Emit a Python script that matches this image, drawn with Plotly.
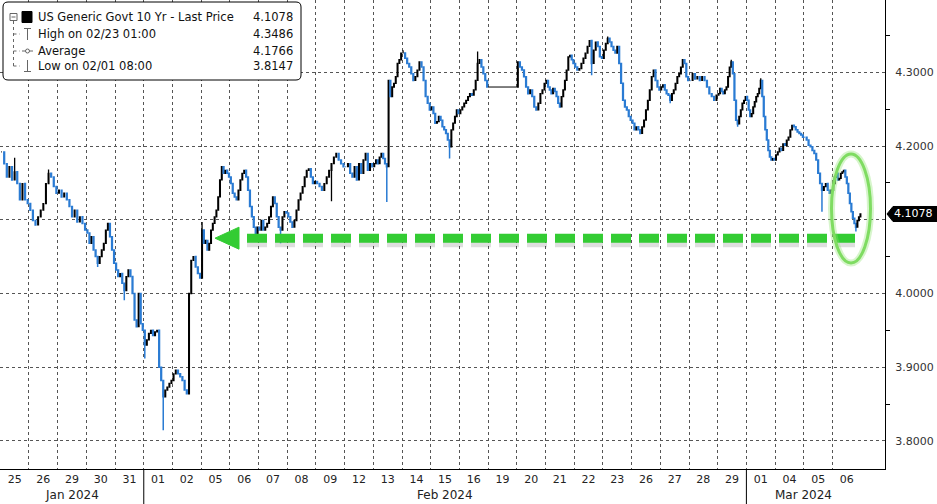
import plotly.graph_objects as go

# ---------------- data ----------------
DAY_LABELS = ["25", "26", "29", "30", "31", "01", "02", "05", "06", "07", "08", "09",
              "12", "13", "14", "15", "16", "19", "20", "21", "22", "23", "26", "27",
              "28", "29", "01", "04", "05", "06"]
MONTH_LABELS = ["Jan 2024", "Feb 2024", "Mar 2024"]
MONTH_START = [0, 5, 26]          # index of first trading day of each month
Y_TICKS = [3.8, 3.9, 4.0, 4.1, 4.2, 4.3]
Y_MINOR = [3.85, 3.95, 4.05, 4.15, 4.25, 4.35]

# intraday closes for each trading day
jan25 = [4.192, 4.176, 4.158, 4.172, 4.154, 4.165, 4.149, 4.127, 4.149, 4.127, 4.122]
jan26 = [4.113, 4.099, 4.093, 4.104, 4.113, 4.122, 4.149, 4.163, 4.158, 4.145, 4.136]
jan29 = [4.140, 4.131, 4.136, 4.127, 4.118, 4.104, 4.113, 4.097, 4.104, 4.095, 4.086]
jan30 = [4.082, 4.068, 4.077, 4.059, 4.050, 4.041, 4.050, 4.059, 4.068, 4.086, 4.095, 4.077, 4.059, 4.041]
jan31 = [4.032, 4.023, 4.027, 4.014, 4.004, 4.023, 4.032, 4.023, 4.000, 3.964, 3.955, 4.000, 3.959, 3.950]
feb01 = [3.930, 3.937, 3.946, 3.950, 3.943, 3.948, 3.950, 3.900, 3.882, 3.860, 3.869, 3.873, 3.878, 3.882]
feb02 = [3.891, 3.896, 3.891, 3.887, 3.882, 3.869, 3.864, 4.000, 4.045, 4.050, 4.036, 4.027, 4.021]
feb05 = [4.086, 4.068, 4.072, 4.059, 4.068, 4.086, 4.095, 4.104, 4.113, 4.131, 4.154, 4.172, 4.163, 4.167, 4.163, 4.158]
feb06 = [4.149, 4.136, 4.131, 4.127, 4.140, 4.154, 4.163, 4.167, 4.158, 4.140, 4.118, 4.104, 4.090, 4.081, 4.090]
feb07 = [4.086, 4.099, 4.086, 4.090, 4.095, 4.104, 4.118, 4.131, 4.122, 4.104, 4.090, 4.086, 4.104, 4.111, 4.109]
feb08 = [4.104, 4.097, 4.090, 4.099, 4.113, 4.127, 4.136, 4.145, 4.158, 4.167, 4.169, 4.158, 4.149, 4.152]
feb09 = [4.149, 4.145, 4.140, 4.149, 4.158, 4.167, 4.176, 4.185, 4.190, 4.181, 4.176, 4.172]
feb12 = [4.172, 4.176, 4.163, 4.158, 4.172, 4.154, 4.176, 4.163, 4.181, 4.190, 4.167, 4.176, 4.172]
feb13 = [4.176, 4.181, 4.176, 4.185, 4.190, 4.183, 4.176, 4.172, 4.289, 4.267, 4.280, 4.285, 4.294, 4.312, 4.317, 4.326]
feb14 = [4.326, 4.319, 4.312, 4.307, 4.298, 4.289, 4.294, 4.303, 4.314, 4.307, 4.289, 4.267, 4.258, 4.249]
feb15 = [4.253, 4.244, 4.231, 4.233, 4.240, 4.235, 4.226, 4.222, 4.217, 4.208, 4.199, 4.222, 4.231, 4.240, 4.249, 4.244]
feb16 = [4.249, 4.253, 4.258, 4.262, 4.267, 4.271, 4.269, 4.276, 4.289, 4.312, 4.317, 4.307, 4.298, 4.289, 4.280]
feb19 = []                         # US holiday: price flat
feb20 = [4.314, 4.307, 4.303, 4.294, 4.280, 4.271, 4.276, 4.267, 4.253, 4.249, 4.258, 4.271, 4.276, 4.285]
feb21 = [4.289, 4.280, 4.276, 4.271, 4.278, 4.274, 4.267, 4.258, 4.253, 4.267, 4.276, 4.289, 4.303, 4.321, 4.323, 4.317, 4.312]
feb22 = [4.307, 4.303, 4.305, 4.312, 4.319, 4.326, 4.335, 4.343, 4.312, 4.330, 4.341, 4.335, 4.321, 4.319]
feb23 = [4.330, 4.339, 4.346, 4.341, 4.335, 4.330, 4.326, 4.335, 4.312, 4.285, 4.262, 4.253, 4.249, 4.240, 4.235]
feb26 = [4.231, 4.222, 4.226, 4.222, 4.217, 4.226, 4.235, 4.249, 4.262, 4.276, 4.294, 4.303, 4.289, 4.280, 4.276]
feb27 = [4.280, 4.283, 4.276, 4.271, 4.269, 4.262, 4.271, 4.276, 4.285, 4.294, 4.298, 4.307, 4.317, 4.312, 4.294, 4.289]
feb28 = [4.289, 4.298, 4.291, 4.294, 4.289, 4.294, 4.289, 4.280, 4.271, 4.267, 4.262, 4.269]
feb29 = [4.271, 4.278, 4.274, 4.271, 4.276, 4.280, 4.294, 4.307, 4.314, 4.298, 4.262, 4.235, 4.230, 4.240, 4.249, 4.258, 4.262, 4.267]
mar01 = [4.262, 4.249, 4.240, 4.244, 4.253, 4.260, 4.267, 4.271, 4.278, 4.289, 4.267, 4.240, 4.222, 4.208, 4.194, 4.185, 4.181, 4.183, 4.181]
mar04 = [4.188, 4.192, 4.197, 4.194, 4.203, 4.201, 4.208, 4.212, 4.222, 4.228, 4.226, 4.222, 4.219, 4.217, 4.215, 4.212]
mar05 = [4.212, 4.208, 4.201, 4.199, 4.194, 4.190, 4.181, 4.163, 4.149, 4.140, 4.145, 4.149, 4.140, 4.136, 4.140]
mar06 = [4.149, 4.158, 4.163, 4.154, 4.156, 4.163, 4.165, 4.167, 4.158, 4.149, 4.136, 4.122, 4.111, 4.102, 4.095, 4.090, 4.099, 4.104, 4.1078]

DAILY_CLOSES = [jan25, jan26, jan29, jan30, jan31, feb01, feb02, feb05, feb06, feb07, feb08,
                feb09, feb12, feb13, feb14, feb15, feb16, feb19, feb20, feb21, feb22, feb23,
                feb26, feb27, feb28, feb29, mar01, mar04, mar05, mar06]
HOLIDAY_DAY = 17
HOLIDAY_LEVEL = 4.280

# notable wick extremes: (day index, candle index, value)
WICK_DAY = [0, 1, 3, 4, 5, 5, 7, 9, 11, 13, 14, 15, 16, 20, 21, 23, 25, 25, 26, 28, 29]
WICK_IDX = [5, 7, 5, 4, 0, 9, 0, 11, 6, 7, 0, 10, 9, 8, 2, 5, 8, 12, 9, 9, 15]
WICK_VAL = [4.184, 4.168, 4.036, 3.991, 3.912, 3.8147, 4.097, 4.068, 4.125, 4.124, 4.330,
            4.183, 4.328, 4.296, 4.3486, 4.258, 4.317, 4.226, 4.292, 4.111, 4.084]

LEGEND_NAMES = ["US Generic Govt 10 Yr - Last Price", "High on 02/23 01:00", "Average", "Low on 02/01 08:00"]
LEGEND_VALUES = ["4.1078", "4.3486", "4.1766", "3.8147"]
LAST_PRICE = 4.1078
ARROW_LEVEL = 4.075

# ---------------- build candles ----------------
wicks = {(d, i): v for d, i, v in zip(WICK_DAY, WICK_IDX, WICK_VAL)}
xs, op, hi, lo, cl = [], [], [], [], []
prev = None
for d, closes in enumerate(DAILY_CLOSES):
    n = len(closes)
    for i, c in enumerate(closes):
        o = c if prev is None else prev
        h, l = max(o, c), min(o, c)
        w = wicks.get((d, i))
        if w is not None:
            h, l = max(h, w), min(l, w)
        xs.append(d + (i + 0.5) / n)
        op.append(o); hi.append(h); lo.append(l); cl.append(c)
        prev = c

BLUE = "#2a7bd3"
X_RANGE = [-0.01, 30.83]
Y_RANGE = [3.762, 4.398]
PLOT_W, PLOT_H = 885, 469


def pxx(px):
    return px / PLOT_W


def pxy(py):
    return 1 - py / PLOT_H


def val_to_py(v):
    return (Y_RANGE[1] - v) / (Y_RANGE[1] - Y_RANGE[0]) * PLOT_H


fig = go.Figure()
fig.add_trace(go.Candlestick(
    x=xs, open=op, high=hi, low=lo, close=cl,
    increasing=dict(line=dict(color="black", width=1.3), fillcolor="white"),
    decreasing=dict(line=dict(color=BLUE, width=1.5), fillcolor=BLUE),
    whiskerwidth=0, showlegend=False, hoverinfo="skip"))

# holiday flat segment
fig.add_trace(go.Scatter(x=[HOLIDAY_DAY, HOLIDAY_DAY + 1], y=[HOLIDAY_LEVEL, HOLIDAY_LEVEL],
                         mode="lines", line=dict(color="black", width=1),
                         showlegend=False, hoverinfo="skip"))

# tick triangles on the right axis
px_per_day = PLOT_W / (X_RANGE[1] - X_RANGE[0])
fig.add_trace(go.Scatter(x=[X_RANGE[1] + 4.5 / px_per_day] * len(Y_TICKS), y=Y_TICKS,
                         mode="markers", cliponaxis=False,
                         marker=dict(symbol="triangle-right", size=7, color="black"),
                         showlegend=False, hoverinfo="skip"))

shapes = []
annotations = []

# month separators in the label band
for s in MONTH_START[1:]:
    shapes.append(dict(type="line", xref="x", yref="paper", x0=s, x1=s, y0=0, y1=-35 / PLOT_H,
                       line=dict(color="black", width=1)))
# month labels
bounds = MONTH_START + [len(DAY_LABELS)]
for k, lab in enumerate(MONTH_LABELS):
    annotations.append(dict(text=lab, xref="x", yref="paper", x=(bounds[k] + bounds[k + 1]) / 2,
                            y=pxy(495), showarrow=False, xanchor="center", yanchor="middle",
                            font=dict(family="DejaVu Sans", size=12, color="#222")))

# green dashed arrow (shadow + dashes + head)
ay = pxy(val_to_py(ARROW_LEVEL))
ay_sh = pxy(val_to_py(ARROW_LEVEL) + 5)
shapes.append(dict(type="line", xref="paper", yref="paper", x0=pxx(247), x1=pxx(855), y0=ay_sh, y1=ay_sh,
                   line=dict(color="rgba(0,0,0,0.13)", width=8, dash="20px,8px")))
shapes.append(dict(type="line", xref="paper", yref="paper", x0=pxx(247), x1=pxx(855), y0=ay, y1=ay,
                   line=dict(color="#33cc33", width=9, dash="20px,8px")))
apy = val_to_py(ARROW_LEVEL)
shapes.append(dict(type="path", xref="paper", yref="paper",
                   path=f"M {pxx(215)},{pxy(apy)} L {pxx(239)},{pxy(apy - 11)} L {pxx(239)},{pxy(apy + 11)} Z",
                   fillcolor="#33cc33", line=dict(color="#33cc33", width=1)))

# green ellipse
shapes.append(dict(type="circle", xref="paper", yref="paper", x0=pxx(831.5), x1=pxx(870.5),
                   y0=pxy(263), y1=pxy(154), line=dict(color="rgba(140,225,110,0.35)", width=7)))
shapes.append(dict(type="circle", xref="paper", yref="paper", x0=pxx(831.5), x1=pxx(870.5),
                   y0=pxy(263), y1=pxy(154), line=dict(color="#7fdc62", width=3)))

# last price tag
tpy = val_to_py(LAST_PRICE)
shapes.append(dict(type="path", xref="paper", yref="paper",
                   path=(f"M {pxx(887)},{pxy(tpy)} L {pxx(893)},{pxy(tpy - 7.5)} L {pxx(937)},{pxy(tpy - 7.5)} "
                         f"L {pxx(937)},{pxy(tpy + 7.5)} L {pxx(893)},{pxy(tpy + 7.5)} Z"),
                   fillcolor="black", line=dict(color="black", width=1)))
annotations.append(dict(text=f"{LAST_PRICE:.4f}", xref="paper", yref="paper", x=pxx(913.5), y=pxy(tpy),
                        showarrow=False, xanchor="center", yanchor="middle",
                        font=dict(family="DejaVu Sans", size=11, color="white")))

# legend box (rounded)
x0, x1, y0, y1 = pxx(3), pxx(301), pxy(80), pxy(2)
rx, ry = 5 / PLOT_W, 5 / PLOT_H
shapes.append(dict(type="path", xref="paper", yref="paper",
                   path=(f"M {x0+rx},{y1} L {x1-rx},{y1} Q {x1},{y1} {x1},{y1-ry} L {x1},{y0+ry} "
                         f"Q {x1},{y0} {x1-rx},{y0} L {x0+rx},{y0} Q {x0},{y0} {x0},{y0+ry} "
                         f"L {x0},{y1-ry} Q {x0},{y1} {x0+rx},{y1} Z"),
                   fillcolor="white", line=dict(color="black", width=1)))
ROW_Y = [17, 34, 51, 66]
for name, val, ry_px in zip(LEGEND_NAMES, LEGEND_VALUES, ROW_Y):
    annotations.append(dict(text=name, xref="paper", yref="paper", x=pxx(36), y=pxy(ry_px),
                            showarrow=False, xanchor="left", yanchor="middle",
                            font=dict(family="DejaVu Sans", size=11.5, color="#111")))
    annotations.append(dict(text=val, xref="paper", yref="paper", x=pxx(295), y=pxy(ry_px),
                            showarrow=False, xanchor="right", yanchor="middle",
                            font=dict(family="DejaVu Sans", size=11.5, color="#111")))
gray = "#666"
# tree: box-minus, connectors
shapes.append(dict(type="rect", xref="paper", yref="paper", x0=pxx(10), x1=pxx(17), y0=pxy(20.5), y1=pxy(13.5),
                   line=dict(color=gray, width=1), fillcolor="white"))
shapes.append(dict(type="line", xref="paper", yref="paper", x0=pxx(11.5), x1=pxx(15.5), y0=pxy(17), y1=pxy(17),
                   line=dict(color=gray, width=1)))
shapes.append(dict(type="line", xref="paper", yref="paper", x0=pxx(13.5), x1=pxx(13.5), y0=pxy(21), y1=pxy(66),
                   line=dict(color=gray, width=1, dash="dot")))
for r in ROW_Y[1:]:
    shapes.append(dict(type="line", xref="paper", yref="paper", x0=pxx(13.5), x1=pxx(20), y0=pxy(r), y1=pxy(r),
                       line=dict(color=gray, width=1, dash="dot")))
# icons
shapes.append(dict(type="rect", xref="paper", yref="paper", x0=pxx(22), x1=pxx(32), y0=pxy(22.5), y1=pxy(11.5),
                   fillcolor="black", line=dict(color="black", width=1)))
shapes.append(dict(type="line", xref="paper", yref="paper", x0=pxx(24), x1=pxx(31), y0=pxy(28.5), y1=pxy(28.5),
                   line=dict(color=gray, width=1)))
shapes.append(dict(type="line", xref="paper", yref="paper", x0=pxx(27.5), x1=pxx(27.5), y0=pxy(28.5), y1=pxy(40),
                   line=dict(color=gray, width=1)))
shapes.append(dict(type="line", xref="paper", yref="paper", x0=pxx(22), x1=pxx(33), y0=pxy(51), y1=pxy(51),
                   line=dict(color=gray, width=1)))
shapes.append(dict(type="circle", xref="paper", yref="paper", x0=pxx(25.5), x1=pxx(29.5), y0=pxy(53), y1=pxy(49),
                   line=dict(color=gray, width=1), fillcolor="white"))
shapes.append(dict(type="line", xref="paper", yref="paper", x0=pxx(27.5), x1=pxx(27.5), y0=pxy(60), y1=pxy(71.5),
                   line=dict(color=gray, width=1)))
shapes.append(dict(type="line", xref="paper", yref="paper", x0=pxx(24), x1=pxx(31), y0=pxy(71.5), y1=pxy(71.5),
                   line=dict(color=gray, width=1)))

# the 4.1000 label is hidden behind the last-price tag in the reference
y_ticktext = ["" if abs(v - round(LAST_PRICE, 1)) < 1e-9 else f"{v:.4f}" for v in Y_TICKS]

fig.update_layout(
    width=937, height=504,
    margin=dict(l=0, r=52, t=0, b=35),
    plot_bgcolor="white", paper_bgcolor="white",
    showlegend=False,
    font=dict(family="DejaVu Sans", size=11, color="#222"),
    shapes=shapes, annotations=annotations,
    xaxis=dict(range=X_RANGE, tickmode="array",
               tickvals=[d + 0.5 for d in range(len(DAY_LABELS))], ticktext=DAY_LABELS,
               showgrid=False, zeroline=False, showline=True, linecolor="black", linewidth=1,
               ticks="", tickfont=dict(family="DejaVu Sans", size=11, color="#222"),
               rangeslider=dict(visible=False), fixedrange=True,
               minor=dict(tickvals=list(range(1, len(DAY_LABELS))), showgrid=True,
                          gridcolor="#555", griddash="dot", gridwidth=1, ticks="")),
    yaxis=dict(side="right", range=Y_RANGE, tickmode="array", tickvals=Y_TICKS,
               ticktext=y_ticktext,
               showgrid=True, gridcolor="#555", griddash="dot", gridwidth=1,
               zeroline=False, showline=True, linecolor="black", linewidth=1,
               ticks="outside", ticklen=7, tickcolor="rgba(0,0,0,0)",
               tickfont=dict(family="DejaVu Sans", size=11, color="#333"), fixedrange=True,
               minor=dict(tickvals=Y_MINOR, ticks="outside", ticklen=4, tickcolor="black")),
)

fig.write_html("out.html", config={"displayModeBar": False},
               post_script="document.body.style.margin='0px';document.body.style.overflow='hidden';")
